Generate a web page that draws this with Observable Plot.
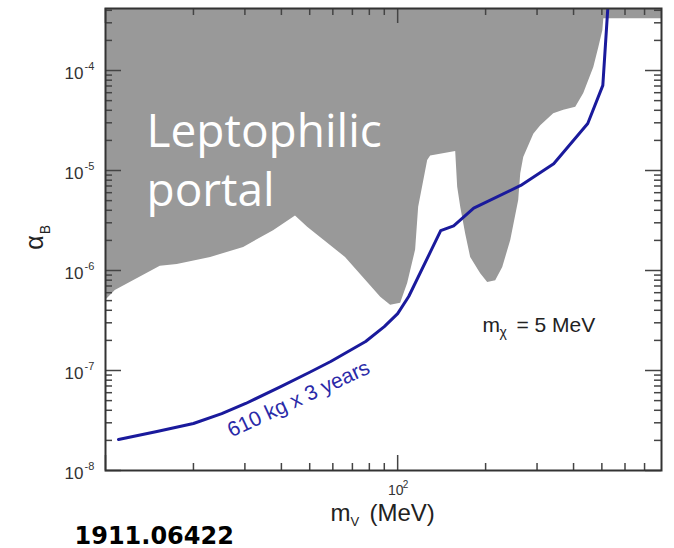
<!DOCTYPE html>
<html>
<head>
<meta charset="utf-8">
<script src="https://cdn.jsdelivr.net/npm/d3@7"></script>
<script src="https://cdn.jsdelivr.net/npm/@observablehq/plot@0.6"></script>
<style>
  html, body { margin: 0; padding: 0; background: #fff; }
  #chart svg { display: block; }
</style>
</head>
<body>
<div id="chart"></div>
<script>
// ---- data ----
// excluded region (grey): lower boundary, region extends up to top of plot
const excludedMass  = [10, 10.8, 15.4, 17.6, 22.9, 29.7, 37.6, 44.7, 49.2, 66.3, 87.5, 94.6, 102.4, 108.2, 115.2, 118.0, 126.7, 129.7, 158.0, 160.5, 164.4, 171.0, 177.8, 192.4, 203.3, 216.6, 228.9, 243.8, 259.6, 263.8, 270.1, 292.4, 308.8, 342.1, 370.3, 407.0, 433.5, 469.2, 488.2, 503.8, 507.8, 800];
const excludedAlpha = [5.0e-7, 6.3e-7, 1.10e-6, 1.15e-6, 1.35e-6, 1.7e-6, 2.5e-6, 3.5e-6, 2.7e-6, 1.35e-6, 5.4e-7, 4.5e-7, 4.7e-7, 7.4e-7, 1.6e-6, 4.3e-6, 1.26e-5, 1.4e-5, 1.55e-5, 6.8e-6, 4.3e-6, 2.3e-6, 1.35e-6, 9.3e-7, 7.6e-7, 7.9e-7, 1.07e-6, 2.0e-6, 5.0e-6, 9.3e-6, 1.35e-5, 2.3e-5, 2.8e-5, 3.7e-5, 4.0e-5, 4.3e-5, 5.9e-5, 1.07e-4, 1.7e-4, 2.5e-4, 3.3e-4, 3.3e-4];

// projected sensitivity, 610 kg x 3 years
const sensMass  = [11.08, 15.0, 20.0, 25.0, 30.2, 39.8, 50.0, 59.0, 77.7, 90.0, 100, 109.1, 140.4, 155.5, 182.1, 263.8, 342.1, 447.4, 503.8, 524];
const sensAlpha = [2.04e-8, 2.45e-8, 2.95e-8, 3.7e-8, 4.68e-8, 6.9e-8, 9.6e-8, 1.23e-7, 1.95e-7, 2.75e-7, 3.7e-7, 5.5e-7, 2.5e-6, 2.8e-6, 4.2e-6, 7.1e-6, 1.17e-5, 2.95e-5, 7.1e-5, 4.2e-4];

// axes
const xDomain = [10, 800];
const yDomain = [1e-8, 4.17e-4];
const xMajorTicks = [10, 100];
const xLabelTicks = [100];
const xLabelExps = ["2"];
const xMinorTicks = [20, 30, 40, 50, 60, 70, 80, 90, 200, 300, 400, 500, 600, 700];
const yMajorTicks = [1e-8, 1e-7, 1e-6, 1e-5, 1e-4];
const yLabelExps = ["-8", "-7", "-6", "-5", "-4"];
const yMinorTicks = [
  2e-8, 3e-8, 4e-8, 5e-8, 6e-8, 7e-8, 8e-8, 9e-8,
  2e-7, 3e-7, 4e-7, 5e-7, 6e-7, 7e-7, 8e-7, 9e-7,
  2e-6, 3e-6, 4e-6, 5e-6, 6e-6, 7e-6, 8e-6, 9e-6,
  2e-5, 3e-5, 4e-5, 5e-5, 6e-5, 7e-5, 8e-5, 9e-5,
  2e-4, 3e-4, 4e-4
];

// texts
const regionLabel = "Leptophilic\nportal";
const curveLabel = "610 kg x 3 years";
const curveLabelAt = {mass: 45.8, alpha: 5.2e-8};
const massLabelAt = {mass: 195, alpha: 2.4e-7};
const reference = "1911.06422";

// ---- layout ----
const W = 674, H = 548;
const mL = 105, mR = 13, mT = 8, mB = 78;
const fw = W - mL - mR, fh = H - mT - mB;

const excluded = excludedMass.map((m, i) => ({m, a: excludedAlpha[i]}));
const sens = sensMass.map((m, i) => ({m, a: sensAlpha[i]}));

const tickColor = "#444";
const axisFont = "'Liberation Sans', Arial, sans-serif";
const blue = "#1a1a9c";

const plot = Plot.plot({
  width: W, height: H,
  marginLeft: mL, marginRight: mR, marginTop: mT, marginBottom: mB,
  style: {fontFamily: axisFont, background: "#fff", color: "#222"},
  x: {type: "log", domain: xDomain, axis: null},
  y: {type: "log", domain: yDomain, axis: null},
  marks: [
    Plot.areaY(excluded, {x: "m", y1: "a", y2: yDomain[1], fill: "#999999", curve: "linear"}),
    Plot.line(sens, {x: "m", y: "a", stroke: blue, strokeWidth: 3, clip: true, strokeLinejoin: "round", curve: "linear"}),
    // ticks, inward
    Plot.tickY(yMajorTicks, {y: d => d, insetRight: fw - 16, stroke: tickColor, strokeWidth: 1.5}),
    Plot.tickY(yMajorTicks, {y: d => d, insetLeft: fw - 16, stroke: tickColor, strokeWidth: 1.5}),
    Plot.tickY(yMinorTicks, {y: d => d, insetRight: fw - 7, stroke: tickColor, strokeWidth: 1.5}),
    Plot.tickY(yMinorTicks, {y: d => d, insetLeft: fw - 7, stroke: tickColor, strokeWidth: 1.5}),
    Plot.tickX(xMajorTicks, {x: d => d, insetTop: fh - 15, stroke: tickColor, strokeWidth: 1.5}),
    Plot.tickX(xMajorTicks, {x: d => d, insetBottom: fh - 15, stroke: tickColor, strokeWidth: 1.5}),
    Plot.tickX(xMinorTicks, {x: d => d, insetTop: fh - 7, stroke: tickColor, strokeWidth: 1.5}),
    Plot.tickX(xMinorTicks, {x: d => d, insetBottom: fh - 7, stroke: tickColor, strokeWidth: 1.5}),
    Plot.frame({stroke: "#333", strokeWidth: 2}),
    // y tick labels
    Plot.text(yMajorTicks, {y: d => d, frameAnchor: "left", text: () => "10", textAnchor: "end", lineAnchor: "middle", dx: -22, dy: 3, fontSize: 17, fill: "#333"}),
    Plot.text(yMajorTicks, {y: d => d, frameAnchor: "left", text: (d, i) => yLabelExps[i], textAnchor: "start", lineAnchor: "bottom", dx: -21, dy: -1, fontSize: 11, fill: "#333"}),
    // x tick labels
    Plot.text(xLabelTicks, {x: d => d, frameAnchor: "bottom", text: () => "10", textAnchor: "middle", lineAnchor: "bottom", dx: -2, dy: 24, fontSize: 14, fill: "#333"}),
    Plot.text(xLabelTicks, {x: d => d, frameAnchor: "bottom", text: (d, i) => xLabelExps[i], textAnchor: "start", lineAnchor: "bottom", dx: 5, dy: 17, fontSize: 10, fill: "#333"}),
    // axis titles
    Plot.text(["m"], {frameAnchor: "bottom", text: d => d, textAnchor: "start", lineAnchor: "bottom", dx: 330 - (mL + fw / 2), dy: 50, fontSize: 24, fill: "#222"}),
    Plot.text(["V"], {frameAnchor: "bottom", text: d => d, textAnchor: "start", lineAnchor: "bottom", dx: 350 - (mL + fw / 2), dy: 55, fontSize: 13, fill: "#222"}),
    Plot.text(["(MeV)"], {frameAnchor: "bottom", text: d => d, textAnchor: "start", lineAnchor: "bottom", dx: 369 - (mL + fw / 2), dy: 50, fontSize: 24, fill: "#222"}),
    Plot.text(["α"], {frameAnchor: "left", text: d => d, rotate: -90, textAnchor: "middle", lineAnchor: "middle", dx: -71, dy: 3, fontSize: 25, fill: "#222"}),
    Plot.text(["B"], {frameAnchor: "left", text: d => d, rotate: -90, textAnchor: "middle", lineAnchor: "middle", dx: -60, dy: -10, fontSize: 14, fill: "#222"}),
    // annotations
    Plot.text([massLabelAt], {x: "mass", y: "alpha", text: () => "m", textAnchor: "start", lineAnchor: "bottom", fontSize: 21, fill: "#222"}),
    Plot.text([massLabelAt], {x: "mass", y: "alpha", text: () => "χ", textAnchor: "start", lineAnchor: "bottom", dx: 17, dy: 5, fontSize: 14, fill: "#222"}),
    Plot.text([massLabelAt], {x: "mass", y: "alpha", text: () => "= 5 MeV", textAnchor: "start", lineAnchor: "bottom", dx: 34, fontSize: 21, fill: "#222"}),
    Plot.text([curveLabelAt], {x: "mass", y: "alpha", text: () => curveLabel, rotate: -25, textAnchor: "middle", lineAnchor: "middle", fontSize: 21, fill: "#2a2aa8"}),
    Plot.text([regionLabel], {frameAnchor: "top-left", text: d => d, textAnchor: "start", lineAnchor: "top", dx: 41, dy: 97, lineHeight: 1.28, fontSize: 46, fontFamily: "'Open Sans', 'Noto Sans', sans-serif", fill: "#fff"}),
    Plot.text([reference], {frameAnchor: "bottom-left", text: d => d, textAnchor: "start", lineAnchor: "bottom", dx: 74 - mL, dy: 73, fontSize: 24, fontWeight: "bold", fontFamily: "'DejaVu Sans', Verdana, sans-serif", fill: "#000"})
  ]
});
document.getElementById("chart").appendChild(plot);
</script>
</body>
</html>
